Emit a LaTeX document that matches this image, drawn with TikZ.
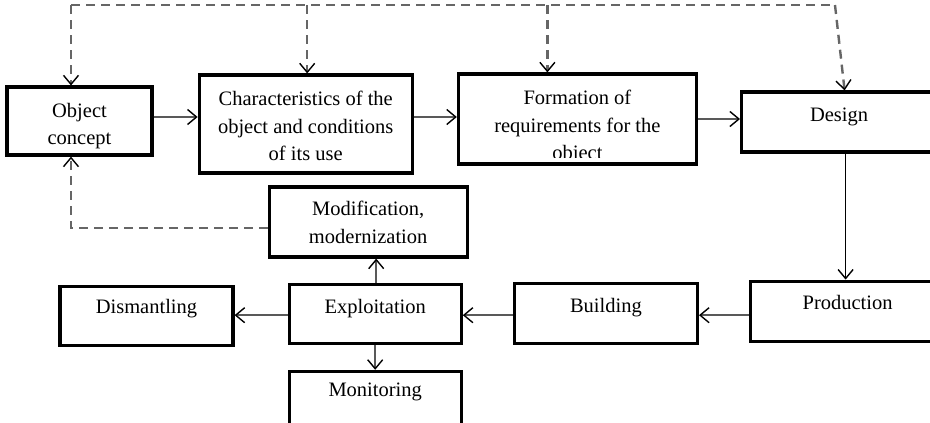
\documentclass[tikz,border=0pt]{standalone}
\usepackage{fontspec}
\setmainfont{Liberation Serif}
\usepackage{tikz}
\usetikzlibrary{arrows.meta,positioning}

\begin{document}
\begin{tikzpicture}[x=1pt, y=-1pt, >={Straight Barb[length=9pt,width=15pt,line width=1.4pt,color=black]}]
\tikzstyle{stage}=[draw, line width=3.2pt, shape=rectangle, inner sep=0pt]
\tikzstyle{txt}=[anchor=north, yshift=-11.5pt, inner sep=0pt, align=center, font=\fontsize{20.5}{27.5}\selectfont, execute at begin node=\strut]
\tikzstyle{txtlong}=[txt, yshift=-6pt]
\tikzstyle{flow}=[->, draw=black!65, line width=2.5pt]
\tikzstyle{feedback}=[->, draw=black!60, line width=2.4pt, dash pattern=on 9pt off 6pt]
\useasboundingbox (0,0) rectangle (930,423);
\clip (0,0) rectangle (930,423);

\node[stage, minimum width=145pt, minimum height=68pt, label={[txtlong]north:Object\\concept}] (concept) at (79.5,121) {};
\node[stage, minimum width=213pt, minimum height=98pt, label={[txtlong]north:Characteristics of the\\object and conditions\\of its use}] (chars) [right=44pt of concept, yshift=-3pt] {};
\node[stage, minimum width=238pt, minimum height=90pt] (formation) [right=43pt of chars, yshift=5pt] {};
\node[stage, minimum width=195pt, minimum height=60pt, label={[txt]north:Design}] (design) [right=42pt of formation, yshift=-3pt] {};
\node[stage, minimum width=194pt, minimum height=60pt, label={[txt, yshift=1pt]north:Production}] (production) [below=126pt of design, xshift=8.5pt] {};
\node[stage, minimum width=183pt, minimum height=60pt, label={[txt]north:Building}] (building) [left=50pt of production, yshift=-2pt] {};
\node[stage, minimum width=172pt, minimum height=59pt, label={[txt]north:Exploitation}] (exploit) [left=50pt of building, yshift=-0.5pt] {};
\node[stage, minimum width=173pt, minimum height=59pt, label={[txt, yshift=2pt]north:Dismantling}] (dismant) [left=53pt of exploit, yshift=-2pt] {};
\node[stage, minimum width=198pt, minimum height=70pt, label={[txtlong, yshift=2pt]north:Modification,\\modernization}] (modif) [above=24pt of exploit, xshift=-7pt] {};
\node[stage, minimum width=172pt, minimum height=65pt, label={[txt, yshift=4pt]north:Monitoring}] (monitor) [below=25pt of exploit] {};

% third line of the text is cut by the box
\begin{scope}
\clip (formation.north west) rectangle ([yshift=8pt]formation.south east);
\node[txtlong] (formationtext) at (formation.north) {Formation of\\requirements for the\\object};
\end{scope}

\draw[flow] ([yshift=4pt]concept.east) -- ([yshift=4pt]concept.east -| chars.west);
\draw[flow] ([yshift=7pt]chars.east) -- ([yshift=7pt]chars.east -| formation.west);
\draw[flow] (formation.east) -- (formation.east -| design.west);
\draw[->, line width=1.4pt] ([xshift=6.5pt]design.south) -- ([xshift=6.5pt]design.south |- production.north);
\draw[flow] ([yshift=-4pt]production.west) -- ([yshift=-4pt]production.west -| building.east);
\draw[flow] ([yshift=-2pt]building.west) -- ([yshift=-2pt]building.west -| exploit.east);
\draw[flow] ([yshift=-1.5pt]exploit.west) -- ([yshift=-1.5pt]exploit.west -| dismant.east);
\draw[flow] ([xshift=1pt]exploit.north) -- ([xshift=1pt]exploit.north |- modif.south);
\draw[flow] (exploit.south) -- (monitor.north);

\coordinate (topleft) at (71,5);
\coordinate (topright) at (835,5);
\draw[feedback, -] (topleft) -- (topright);
\draw[feedback] (topleft) -- ([xshift=-8.5pt]concept.north);
\draw[feedback] ([xshift=1.5pt]chars.north |- topleft) -- ([xshift=1.5pt]chars.north);
\draw[feedback] ([xshift=-30pt]formation.north |- topleft) -- ([xshift=-30pt]formation.north);
\draw[feedback] (topright) -- ([xshift=5.5pt]design.north);
\draw[feedback] ([yshift=-6pt]modif.west) -| ([xshift=-8.5pt]concept.south);

\end{tikzpicture}
\end{document}
